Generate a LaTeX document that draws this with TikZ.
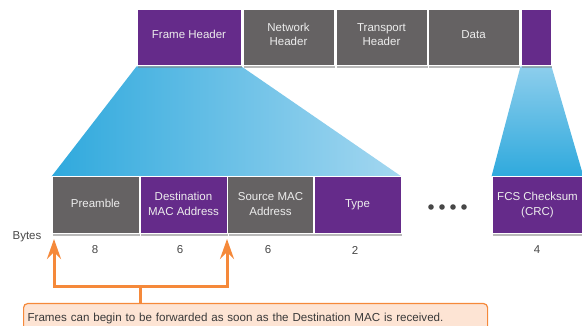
\documentclass[tikz,border=0pt]{standalone}
\usepackage{fontspec}
\setmainfont{Liberation Sans}
\usetikzlibrary{arrows.meta,shadows,backgrounds}
\definecolor{framepurple}{HTML}{652B8A}
\definecolor{framegray}{HTML}{656263}
\definecolor{funnelblue}{HTML}{2FA9DD}
\definecolor{funnellight}{HTML}{A4D7F0}
\definecolor{fwdorange}{HTML}{F5893A}
\definecolor{notepeach}{HTML}{FDE4D4}
\definecolor{labelgray}{HTML}{474747}
\tikzset{
  field/.style={draw=white, line width=1pt, text=white!93!black, align=center,
    font=\fontsize{11.5}{14.5}\selectfont, inner sep=0pt,
    drop shadow={shadow xshift=1pt, shadow yshift=-2pt, opacity=.55}},
  purplefield/.style={field, fill=framepurple},
  grayfield/.style={field, fill=framegray},
  toprow/.style={minimum height=56pt, text depth=7pt},
  lowrow/.style={minimum height=57pt, text depth=3.5pt},
  bytecount/.style={text=labelgray, font=\fontsize{11.5}{12}\selectfont},
  fwdline/.style={draw=fwdorange, line width=3pt},
}
\begin{document}
\begin{tikzpicture}[x=1pt,y=-1pt]
      \useasboundingbox (0,0) rectangle (582,326);
      \node[purplefield, toprow, minimum width=104pt] (fh) at (189,38) {Frame Header};
      \node[grayfield, toprow, minimum width=91pt] (nh) at (288.5,38) {Network\\Header};
      \node[grayfield, toprow, minimum width=91pt] (th) at (381.5,38) {Transport\\Header};
      \node[grayfield, toprow, minimum width=91pt] (data) at (473.5,38) {Data};
      \node[purplefield, toprow, minimum width=30pt] (ft) at (536,38) {};
      \node[grayfield, lowrow, minimum width=87pt] (pre) at (95.5,205.5) {Preamble};
      \node[purplefield, lowrow, minimum width=87pt] (dst) at (183.5,205.5) {Destination\\MAC Address};
      \node[grayfield, lowrow, minimum width=86pt] (src) at (270.5,205.5) {Source MAC\\Address};
      \node[purplefield, lowrow, minimum width=87pt] (type) at (357.5,205.5) {Type};
      \node[purplefield, lowrow, minimum width=91pt] (fcs) at (537.5,205.5) {FCS Checksum\\(CRC)};
      \begin{scope}[on background layer]
        \shade[left color=funnelblue, middle color=funnelblue!75!funnellight, right color=funnellight]
          (fh.south west) -- (fh.south east) -- (type.north east) -- (pre.north west) -- cycle;
        \shade[top color=funnellight!80!funnelblue, bottom color=funnelblue]
          (ft.south west) -- (ft.south east) -- (fcs.north east) -- (fcs.north west) -- cycle;
      \end{scope}
      \foreach \x [count=\i] in {431,442,453,464}
        \fill[labelgray] (\x,207) circle (2.8) coordinate (dot\i);
      \node[bytecount] (bytes) at (27,237) {Bytes};
      \node[bytecount] (n1) at (95,250) {8};
      \node[bytecount] (n2) at (180,250) {6};
      \node[bytecount] (n3) at (268,250) {6};
      \node[bytecount] (n4) at (355,250) {2};
      \node[bytecount] (n5) at (537,250) {4};
      \node[draw=fwdorange, line width=1.2pt, fill=notepeach, rounded corners=4pt,
        anchor=north west, text width=456pt, align=left, minimum height=29pt, inner xsep=4pt,
        text=labelgray!80!black, font=\fontsize{11.6}{13}\selectfont] (note) at (23,303)
        {Frames can begin to be forwarded as soon as the Destination MAC is received.};
      \coordinate (fork) at (140,287);
      \coordinate (ltip) at (54,239);
      \coordinate (rtip) at (227,239);
      \begin{scope}[fwdline]
        \draw (fork |- note.north) -- (fork);
        \draw[-{Stealth[length=20pt,width=14pt,inset=7pt]}] (fork) -| (ltip);
        \draw[-{Stealth[length=20pt,width=14pt,inset=7pt]}] (fork) -| (rtip);
      \end{scope}
    \end{tikzpicture}
\end{document}
